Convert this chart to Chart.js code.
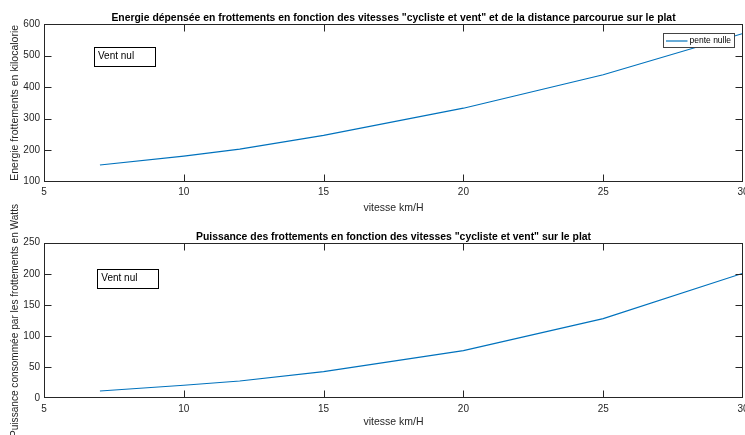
<!DOCTYPE html>
<html>
<head>
<meta charset="utf-8">
<script src="https://cdn.jsdelivr.net/npm/chart.js@4.4.0/dist/chart.umd.min.js"></script>
<style>
  html, body { margin: 0; padding: 0; background: #fff; }
  #wrap { position: relative; width: 745px; height: 435px; overflow: hidden; background: #fff; }
  #c1 { position: absolute; left: 0; top: 0; }
  #c2 { position: absolute; left: 0; top: 190px; }
</style>
</head>
<body>
<div id="wrap">
  <canvas id="c1" width="745" height="220"></canvas>
  <canvas id="c2" width="745" height="245"></canvas>
</div>
<script>
// ---- data ----
const vitesses = [7, 10, 12, 15, 20, 25, 30];
const energie = [153, 181, 203, 247, 333, 439, 570];
const puissance = [11.7, 21.0, 27.8, 43.0, 76.5, 128, 201];
const xTicks = [5, 10, 15, 20, 25, 30];
const yTicksEnergie = [100, 200, 300, 400, 500, 600];
const yTicksPuissance = [0, 50, 100, 150, 200, 250];

const titreEnergie = 'Energie dépensée en frottements en fonction des vitesses "cycliste et vent" et de la distance parcourue sur le plat';
const titrePuissance = 'Puissance des frottements en fonction des vitesses "cycliste et vent" sur le plat';
const labelX = 'vitesse km/H';
const labelYEnergie = 'Energie frottements en kilocalorie';
const labelYPuissance = 'Puissance consommée par les frottements en Watts';
const annotation = 'Vent nul';
const legende = 'pente nulle';

const FONT = 'Arial, "Liberation Sans", Helvetica, sans-serif';
const AXC = '#262626';
const LINEC = '#0072BD';

function decorPlugin(opts) {
  return {
    id: 'decor',
    afterDraw(chart) {
      const ctx = chart.ctx;
      const a = chart.chartArea;
      const xs = chart.scales.x, ys = chart.scales.y;
      ctx.save();
      // frame
      ctx.strokeStyle = AXC;
      ctx.lineWidth = 1;
      const L = Math.round(a.left) + 0.5, R = Math.round(a.right) - 0.5;
      const T = Math.round(a.top) + 0.5, B = Math.round(a.bottom) - 0.5;
      ctx.strokeRect(L, T, R - L, B - T);
      // inward ticks
      const tl = 7;
      ctx.beginPath();
      xs.ticks.forEach(t => {
        const px = Math.round(xs.getPixelForValue(t.value)) + 0.5;
        if (px <= L + 1 || px >= R - 1) return;
        ctx.moveTo(px, B); ctx.lineTo(px, B - tl);
        ctx.moveTo(px, T); ctx.lineTo(px, T + tl);
      });
      ys.ticks.forEach(t => {
        const py = Math.round(ys.getPixelForValue(t.value)) + 0.5;
        if (py <= T + 1 || py >= B - 1) return;
        ctx.moveTo(L, py); ctx.lineTo(L + tl, py);
        ctx.moveTo(R, py); ctx.lineTo(R - tl, py);
      });
      ctx.stroke();
      // title
      ctx.fillStyle = '#000';
      ctx.font = 'bold 10.4px ' + FONT;
      ctx.textAlign = 'center';
      ctx.textBaseline = 'alphabetic';
      const cx = (a.left + a.right) / 2;
      ctx.fillText(opts.title, cx, a.top - 3);
      // x label
      ctx.fillStyle = AXC;
      ctx.font = '10.5px ' + FONT;
      ctx.textBaseline = 'middle';
      ctx.fillText(labelX, cx, a.bottom + opts.xLabelOff);
      // y label
      ctx.save();
      ctx.font = opts.yFont + 'px ' + FONT;
      ctx.translate(15.5, (a.top + a.bottom) / 2 + opts.yShift);
      ctx.rotate(-Math.PI / 2);
      ctx.fillText(opts.ylabel, 0, 0);
      ctx.restore();
      // annotation box
      const bx = a.left + opts.boxDx, by = a.top + opts.boxDy;
      ctx.fillStyle = '#fff';
      ctx.fillRect(bx, by, 61, 19);
      ctx.strokeStyle = '#000';
      ctx.strokeRect(Math.round(bx) + 0.5, Math.round(by) + 0.5, 61, 19);
      ctx.fillStyle = '#000';
      ctx.font = '10px ' + FONT;
      ctx.textAlign = 'left';
      ctx.fillText(annotation, bx + 4, by + 10);
      // legend
      if (opts.legend) {
        const lx = Math.round(a.right - 80) + 0.5, ly = Math.round(a.top + 9) + 0.5;
        ctx.fillStyle = '#fff';
        ctx.fillRect(lx, ly, 71, 14);
        ctx.strokeStyle = '#444';
        ctx.strokeRect(lx, ly, 71, 14);
        ctx.strokeStyle = LINEC;
        ctx.lineWidth = 1.2;
        ctx.beginPath();
        ctx.moveTo(lx + 2.5, ly + 7.5); ctx.lineTo(lx + 24, ly + 7.5);
        ctx.stroke();
        ctx.fillStyle = '#000';
        ctx.font = '8.5px ' + FONT;
        ctx.fillText(chart.data.datasets[0].label, lx + 26, ly + 7.5);
      }
      ctx.restore();
    }
  };
}

function makeChart(id, values, yTicks, opts) {
  const ymin = yTicks[0], ymax = yTicks[yTicks.length - 1];
  return new Chart(document.getElementById(id), {
    type: 'line',
    data: {
      datasets: [{
        label: legende,
        data: vitesses.map((v, i) => ({ x: v, y: values[i] })),
        borderColor: LINEC,
        borderWidth: 1.2,
        pointRadius: 0,
        tension: 0,
        fill: false
      }]
    },
    options: {
      responsive: false,
      animation: false,
      events: [],
      layout: { padding: { top: opts.padTop, right: 2, left: 0, bottom: 0 } },
      plugins: { legend: { display: false }, title: { display: false }, tooltip: { enabled: false } },
      scales: {
        x: {
          type: 'linear', min: 5, max: 30,
          grid: { display: false, drawTicks: false },
          border: { display: false },
          afterBuildTicks: s => { s.ticks = xTicks.map(v => ({ value: v })); },
          afterFit: s => { s.height = opts.xHeight; s.paddingLeft = 0; s.paddingRight = 0; },
          ticks: { color: AXC, font: { size: 10, family: FONT }, padding: 5, maxRotation: 0, autoSkip: false }
        },
        y: {
          type: 'linear', min: ymin, max: ymax,
          grid: { display: false, drawTicks: false },
          border: { display: false },
          afterBuildTicks: s => { s.ticks = yTicks.map(v => ({ value: v })); },
          afterFit: s => { s.width = 44; s.paddingTop = 0; s.paddingBottom = 0; },
          ticks: { color: AXC, font: { size: 10, family: FONT }, padding: 4, autoSkip: false }
        }
      }
    },
    plugins: [decorPlugin(opts)]
  });
}

makeChart('c1', energie, yTicksEnergie, {
  padTop: 24, xHeight: 38.3, title: titreEnergie, ylabel: labelYEnergie, yFont: 10.5, yShift: 0,
  xLabelOff: 26, boxDx: 50, boxDy: 22.5, legend: true
});
makeChart('c2', puissance, yTicksPuissance, {
  padTop: 52.7, xHeight: 36.7, title: titrePuissance, ylabel: labelYPuissance, yFont: 10.1, yShift: 0,
  xLabelOff: 23.5, boxDx: 53.3, boxDy: 26, legend: false
});
</script>
</body>
</html>
